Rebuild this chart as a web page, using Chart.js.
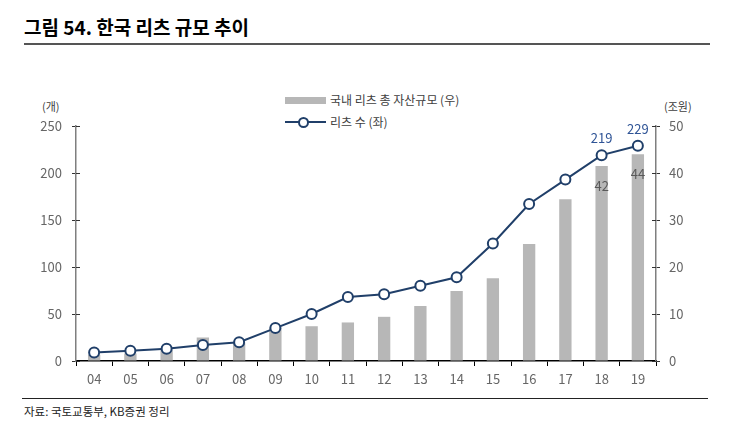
<!DOCTYPE html>
<html>
<head>
<meta charset="utf-8">
<script src="https://cdn.jsdelivr.net/npm/chart.js@4"></script>
<style>
   body{ margin:0; width:743px; height:440px; background:#fff; position:relative;
         font-family:"Noto Sans CJK KR","Noto Sans",sans-serif; overflow:hidden; }
   .title{ position:absolute; left:24px; top:13px; font-size:19px; font-weight:bold; color:#000; line-height:28px; }
   .rule{ position:absolute; left:24px; width:686px; height:0; }
   .src{ position:absolute; left:24px; top:403px; font-size:11.5px; color:#222; }
   .lg{ position:absolute; font-size:12px; color:#404040; white-space:nowrap; }
   .unit{ position:absolute; font-size:11px; color:#404040; }
   #wrap{ position:absolute; left:0; top:50px; width:743px; height:340px; }
</style>
</head>
<body>

<div class="title">그림 54. 한국 리츠 규모 추이</div>
<div class="rule" style="top:43px;border-top:2px solid #555;"></div>

<div class="unit" style="left:42px;top:98px;">(개)</div>
<div class="unit" style="left:664px;top:98px;">(조원)</div>

<div style="position:absolute;left:285px;top:97px;width:41px;height:7px;background:#b7b7b7;"></div>
<div class="lg" style="left:330px;top:91px;">국내 리츠 총 자산규모 (우)</div>
<div style="position:absolute;left:285px;top:121px;width:41px;height:2px;background:#203f69;"></div>
<div style="position:absolute;left:298px;top:117px;width:7px;height:7px;border:2px solid #203f69;border-radius:50%;background:#fff;"></div>
<div class="lg" style="left:330px;top:113px;">리츠 수 (좌)</div>

<div id="wrap"><canvas id="c"></canvas></div>

<div class="rule" style="top:398px;border-top:1px solid #222;left:22px;"></div>
<div class="src">자료: 국토교통부, KB증권 정리</div>

<script>
/* 데이터 */
let years = ["04","05","06","07","08","09","10","11","12","13","14","15","16","17","18","19"];

let reitsCount = [9,11,13,17,20,35,50,68,71,80,89,125,167,193,219,229];

let totalAssets = [1.3,1.6,2.3,5.0,3.8,7.1,7.4,8.2,9.4,11.7,14.9,17.6,24.9,34.4,41.5,44];

let leftTicks = [0,50,100,150,200,250];
let rightTicks = [0,10,20,30,40,50];

let countLabels = {14:"219", 15:"229"};
let assetLabels = {14:"42", 15:"44"};

let tickFont = { family:"Noto Sans CJK KR", size:13 };

/* y축 안쪽 눈금 + 데이터 라벨 */
let extraDraw = {
   id:"extraDraw",
   afterDatasetsDraw(chart){

      let ctx = chart.ctx;
      let yL = chart.scales.y;
      let yR = chart.scales.y1;

      ctx.save();
      ctx.strokeStyle = "#333";
      ctx.lineWidth = 1;

      leftTicks.forEach(v => {
         let py = Math.round(yL.getPixelForValue(v)) + 0.5;
         ctx.beginPath();
         ctx.moveTo(yL.right, py);
         ctx.lineTo(yL.right + 4, py);
         ctx.stroke();
      });

      rightTicks.forEach(v => {
         let py = Math.round(yR.getPixelForValue(v)) + 0.5;
         ctx.beginPath();
         ctx.moveTo(yR.left - 4, py);
         ctx.lineTo(yR.left, py);
         ctx.stroke();
      });

      ctx.font = "13px 'Noto Sans CJK KR'";
      ctx.textAlign = "center";
      ctx.textBaseline = "middle";

      let barMeta = chart.getDatasetMeta(0);
      let lineMeta = chart.getDatasetMeta(1);

      Object.keys(assetLabels).forEach(i => {
         let el = barMeta.data[i];
         ctx.fillStyle = "#595959";
         ctx.fillText(assetLabels[i], el.x, el.y + 20);
      });

      Object.keys(countLabels).forEach(i => {
         let el = lineMeta.data[i];
         ctx.fillStyle = "#2f5496";
         ctx.fillText(countLabels[i], el.x, el.y - 17);
      });

      ctx.restore();
   }
};

new Chart(document.getElementById("c"), {

   data: {

      labels: years,

      datasets: [

         {
            type: "bar",
            label: "국내 리츠 총 자산규모 (우)",
            data: totalAssets,
            yAxisID: "y1",
            backgroundColor: "#b7b7b7",
            categoryPercentage: 1,
            barPercentage: 0.34,
            order: 2
         },

         {
            type: "line",
            label: "리츠 수 (좌)",
            data: reitsCount,
            yAxisID: "y",
            borderColor: "#203f69",
            borderWidth: 2,
            pointRadius: 5,
            pointBorderWidth: 2,
            pointBackgroundColor: "#fff",
            pointBorderColor: "#203f69",
            tension: 0,
            order: 1
         }

      ]

   },

   options: {

      responsive: true,
      maintainAspectRatio: false,
      animation: false,

      layout: { padding: { top: 76, left: 0, right: 0, bottom: 0 } },

      plugins: {
         legend: { display: false },
         tooltip: { enabled: false }
      },

      scales: {

         x: {
            offset: true,
            grid: {
               offset: true,
               drawOnChartArea: false,
               tickLength: 5,
               tickColor: "#000"
            },
            border: { color: "#000", width: 1.5 },
            ticks: { color: "#666", font: tickFont, padding: 5 },
            afterFit: s => { s.height = 29; }
         },

         y: {
            position: "left",
            min: 0,
            max: 250,
            afterBuildTicks: s => { s.ticks = leftTicks.map(v => ({ value: v })); },
            grid: {
               drawOnChartArea: false,
               tickLength: 4,
               tickColor: "#333"
            },
            border: { color: "#7f7f7f", width: 1.5 },
            ticks: { color: "#666", font: tickFont, padding: 10 },
            afterFit: s => { s.width = 76; }
         },

         y1: {
            position: "right",
            min: 0,
            max: 50,
            afterBuildTicks: s => { s.ticks = rightTicks.map(v => ({ value: v })); },
            grid: {
               drawOnChartArea: false,
               tickLength: 4,
               tickColor: "#333"
            },
            border: { color: "#7f7f7f", width: 1.5 },
            ticks: { color: "#666", font: tickFont, padding: 9 },
            afterFit: s => { s.width = 87; }
         }

      }

   },

   plugins: [extraDraw]

});
</script>
</body>
</html>
